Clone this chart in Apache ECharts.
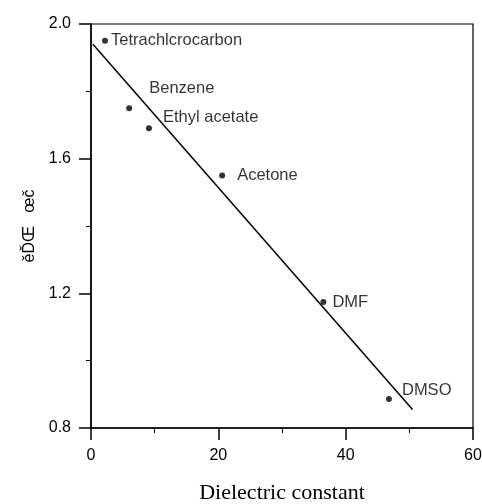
<!DOCTYPE html>
<html>
<head>
<meta charset="utf-8">
<script src="https://cdn.jsdelivr.net/npm/echarts@6/dist/echarts.min.js"></script>
<style>
html,body{margin:0;padding:0;background:#fff;}
#chart{width:482px;height:504px;}
</style>
</head>
<body>
<div id="chart"></div>
<script>
var solvents = ["Tetrachlcrocarbon", "Benzene", "Ethyl acetate", "Acetone", "DMF", "DMSO"];
var dielectric = [2.2, 6.0, 9.1, 20.6, 36.5, 46.8];
var values = [1.95, 1.75, 1.69, 1.55, 1.174, 0.886];
var fitX = [0.3, 50.5];
var fitY = [1.94, 0.855];
var labelOffsets = [[-2, 0], [12, -20], [6, -11], [7, 0], [1, 0], [5, -9]];

var pts = solvents.map(function (s, i) {
  return {
    value: [dielectric[i], values[i]],
    name: s,
    label: { offset: labelOffsets[i] }
  };
});

var chart = echarts.init(document.getElementById('chart'));
chart.setOption({
  backgroundColor: '#fff',
  animation: false,
  grid: { left: 91, right: 9, top: 24, bottom: 76, outerBoundsMode: 'none', containLabel: false,
    show: true, borderColor: '#000', borderWidth: 1.2 },
  xAxis: {
    type: 'value', min: 0, max: 60, interval: 20,
    name: 'Dielectric constant', nameLocation: 'middle', nameGap: 54,
    nameTextStyle: { fontFamily: 'Liberation Serif', fontSize: 22, color: '#000' },
    axisLine: { show: true, onZero: false, lineStyle: { color: '#000', width: 1.5 } },
    axisTick: { show: true, inside: false, length: 12, lineStyle: { color: '#000', width: 1.5 } },
    minorTick: { show: true, splitNumber: 2, length: 5, lineStyle: { color: '#000' } },
    axisLabel: { color: '#000', fontFamily: 'Liberation Sans', fontSize: 16, margin: 20 },
    splitLine: { show: false }
  },
  yAxis: {
    type: 'value', min: 0.8, max: 2.0, interval: 0.4,
    name: 'ěĎŒ   œč', nameLocation: 'middle', nameGap: 50,
    nameTextStyle: { fontFamily: 'Liberation Sans', fontSize: 16, color: '#000' },
    axisLine: { show: true, onZero: false, lineStyle: { color: '#000', width: 1.5 } },
    axisTick: { show: true, inside: false, length: 12, lineStyle: { color: '#000', width: 1.5 } },
    minorTick: { show: true, splitNumber: 2, length: 5, lineStyle: { color: '#000' } },
    axisLabel: { color: '#000', fontFamily: 'Liberation Sans', fontSize: 16, margin: 20,
      formatter: function (v) { return v.toFixed(1); } },
    splitLine: { show: false }
  },
  series: [
    {
      type: 'line',
      data: fitX.map(function (x, i) { return [x, fitY[i]]; }),
      symbol: 'none',
      lineStyle: { color: '#000', width: 1.5 }
    },
    {
      type: 'scatter',
      data: pts,
      symbol: 'circle',
      symbolSize: 6,
      itemStyle: { color: '#000' },
      label: {
        show: true, position: 'right', formatter: '{b}',
        color: '#000', fontFamily: 'Liberation Sans', fontSize: 16.5
      }
    }
  ]
});
</script>
</body>
</html>
